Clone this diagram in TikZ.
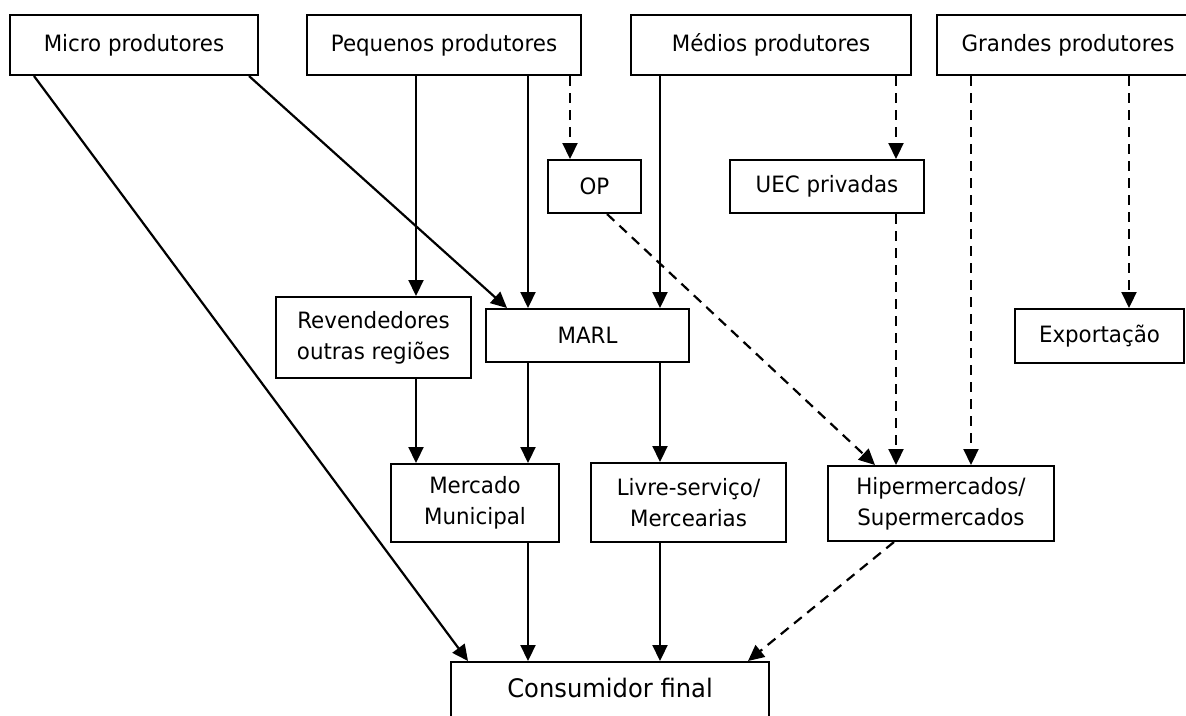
\documentclass[tikz,border=0pt]{standalone}
\usepackage{fontspec}
\setmainfont{DejaVu Sans}[FakeStretch=0.95]
\usetikzlibrary{arrows.meta,calc}
\begin{document}
\begin{tikzpicture}[x=1pt,y=-1pt,
  box/.style={draw,line width=2pt,inner sep=0pt,align=center,
    font=\fontsize{22.5}{31}\selectfont},
  arr/.style={line width=2.2pt,-{Triangle[length=16pt,width=15pt]}},
  darr/.style={arr,dash pattern=on 10pt off 7pt}]
\useasboundingbox (0,0) rectangle (1186,715);
% columns
\coordinate (c416) at (416,0);
\coordinate (c528) at (528,0);
\coordinate (c570) at (570,0);
\coordinate (c660) at (660,0);
\coordinate (c896) at (896,0);
\coordinate (c971) at (971,0);
\coordinate (c1129) at (1129,0);
% top row
\node[box,minimum width=248,minimum height=60] (micro) at (134,45) {Micro produtores};
\node[box,minimum width=274,minimum height=60] (peq) at (444,45) {Pequenos produtores};
\node[box,minimum width=280,minimum height=60] (medios) at (771,45) {Médios produtores};
\node[box,minimum width=262,minimum height=60] (grandes) at (1068,45) {Grandes produtores};
% second row
\node[box,minimum width=93,minimum height=53] (op) at (594.5,186.5) {OP};
\node[box,minimum width=194,minimum height=53] (uec) at (827,186.5) {UEC privadas};
% third row
\node[box,minimum width=195,minimum height=81] (revend) at (373.5,337.5) {Revendedores\\outras regiões};
\node[box,minimum width=203,minimum height=53] (marl) at (587.5,335.5) {MARL};
\node[box,minimum width=169,minimum height=54] (export) at (1099.5,336) {Exportação};
% fourth row
\node[box,minimum width=168,minimum height=78] (mercado) at (475,503) {Mercado\\Municipal};
\node[box,minimum width=195,minimum height=79] (livre) at (688.5,502.5) {Livre-serviço/\\Mercearias};
\node[box,minimum width=226,minimum height=75] (hiper) at (941,503.5) {Hipermercados/\\Supermercados};
% bottom
\node[box,anchor=north,minimum width=318,text height=35pt,text depth=55pt,
  font=\fontsize{25.5}{31}\selectfont] (cons) at (610,661) {Consumidor final};
% connectors
\draw[arr] ($(micro.south west)+(25,0)$) -- ($(cons.north west)+(18,0)$);
\draw[arr] ($(micro.south east)+(-10,0)$) -- ($(marl.north west)+(22,0)$);
\draw[arr] (peq.south -| c416) -- (revend.north -| c416);
\draw[arr] (peq.south -| c528) -- (marl.north -| c528);
\draw[darr] (peq.south -| c570) -- (op.north -| c570);
\draw[arr] (medios.south -| c660) -- (marl.north -| c660);
\draw[darr] (medios.south -| c896) -- (uec.north -| c896);
\draw[darr] (grandes.south -| c971) -- (hiper.north -| c971);
\draw[darr] (grandes.south -| c1129) -- (export.north -| c1129);
\draw[darr] (uec.south -| c896) -- (hiper.north -| c896);
\draw[darr] ($(op.south)+(12.5,0)$) -- ($(hiper.north west)+(48,0)$);
\draw[arr] (revend.south -| c416) -- (mercado.north -| c416);
\draw[arr] (marl.south -| c528) -- (mercado.north -| c528);
\draw[arr] (marl.south -| c660) -- (livre.north -| c660);
\draw[arr] (mercado.south -| c528) -- (cons.north -| c528);
\draw[arr] (livre.south -| c660) -- (cons.north -| c660);
\draw[darr] ($(hiper.south west)+(67,0)$) -- ($(cons.north east)+(-22,0)$);
\end{tikzpicture}
\end{document}
